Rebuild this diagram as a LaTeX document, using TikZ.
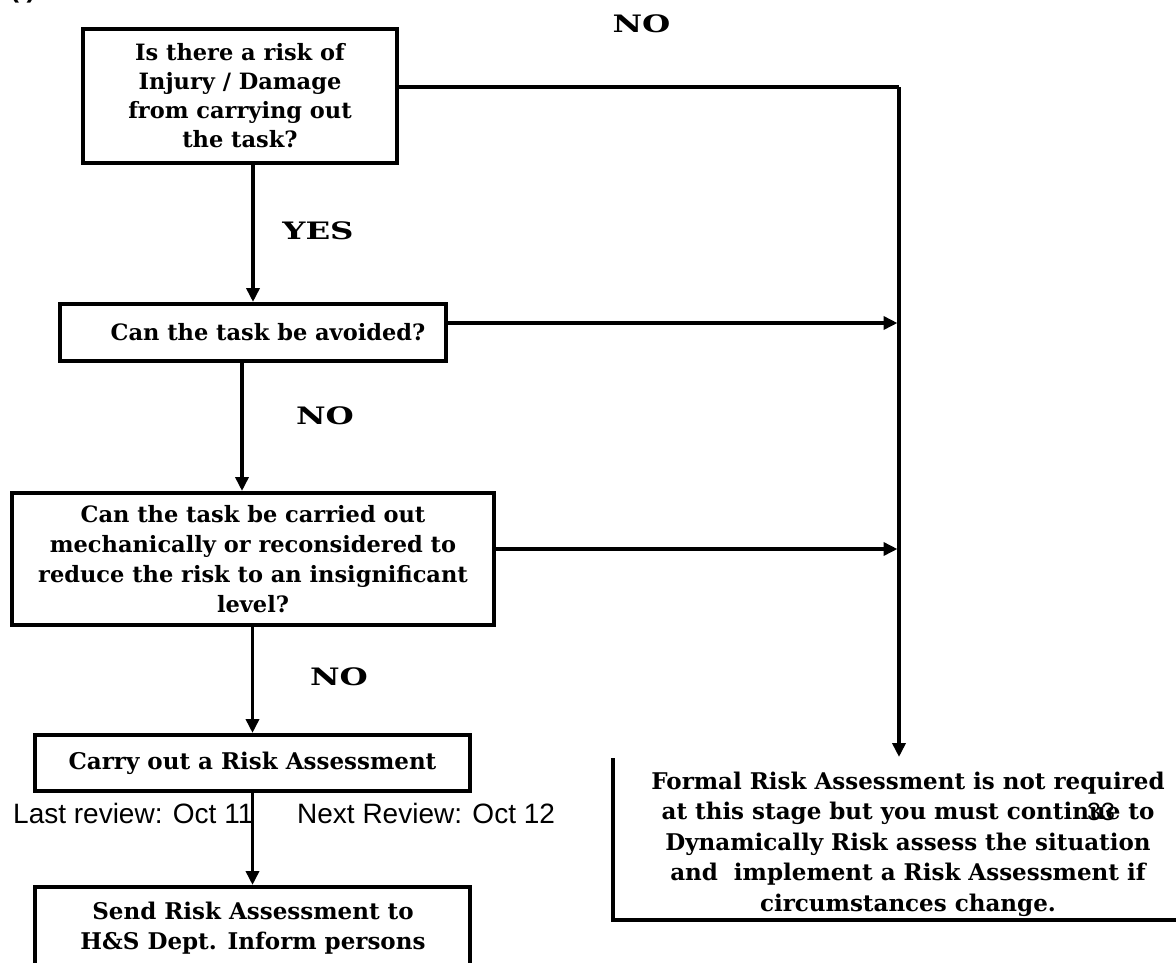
\documentclass[tikz,border=0pt]{standalone}
\usepackage{fontspec}
\setmainfont{DejaVu Serif}
\newfontfamily\arialf{Liberation Sans}
\usepackage{graphicx}
\usetikzlibrary{arrows.meta}
\newcommand\bxfont{\fontsize{22.5}{29}\selectfont\bfseries}
\newcommand\bxbfont{\fontsize{23}{30}\selectfont\bfseries}
\newcommand\lbfont{\fontsize{24}{28}\selectfont\bfseries}
\newcommand\ftfont{\arialf\fontsize{28}{30}\selectfont}
\begin{document}
\begin{tikzpicture}[x=1pt,y=-1pt,
  boxst/.style={draw, line width=4pt, inner sep=0pt, align=center, font=\bxfont},
  txtst/.style={inner sep=0pt, align=center, font=\bxfont},
  lab/.style={inner sep=0pt, font=\lbfont},
  foot/.style={inner sep=0pt, anchor=base west, font=\ftfont},
  conn/.style={line width=3.5pt},
  arr/.style={line width=3.5pt, -{Triangle[length=14pt,width=13pt]}}]
\useasboundingbox (0,0) rectangle (1176,962);
\fill[white] (0,0) rectangle (1176,962);

% clipped mark at the top left
\node[inner sep=0pt, anchor=base west, font=\arialf\bfseries\fontsize{27}{30}\selectfont] (corner) at (10,-3) {( )};

% boxes
\node[boxst, minimum width=314pt, minimum height=134pt] (b1) at (240,96)
  {Is there a risk of\\Injury / Damage\\from carrying out\\the task?};
\node[boxst, minimum width=386pt, minimum height=57pt] (b2) at (253,332.5) {};
\node[txtst] (t2) at (268,332) {Can the task be avoided?};
\node[boxst, font=\fontsize{22.5}{30}\selectfont\bfseries, minimum width=482pt, minimum height=132pt] (b3) at (253,559)
  {Can the task be carried out\\mechanically or reconsidered to\\reduce the risk to an insignificant\\level?};
\node[boxst, font=\bxbfont, minimum width=435pt, minimum height=56pt] (b4) at (252.5,763) {Carry out a Risk Assessment};
\node[boxst, anchor=north, minimum width=435pt, minimum height=160pt] (b5) at (252.5,885) {};
\node[txtst, font=\bxbfont] (t5) at (253,928) {Send Risk Assessment to\\H\&S Dept. Inform persons};

% right-hand box (open at top and right)
\coordinate (fbtl) at (613,758);
\coordinate (fbbl) at (613,920);
\coordinate (fbbr) at (1180,920);
\draw[line width=4pt] (fbtl) -- (fbbl) -- (fbbr);
\node[txtst, font=\fontsize{23}{30.5}\selectfont\bfseries] (fbt) at (908,844)
  {Formal Risk Assessment is not required\\at this stage but you must continue to\\Dynamically Risk assess the situation\\and \ implement a Risk Assessment if\\circumstances change.};
\node[inner sep=0pt, font=\arialf\fontsize{25}{28}\selectfont] (pg) at (1101,812) {33};

% labels
\node[lab] (no0) at (641.5,24) {\scalebox{1.35}[1]{NO}};
\node[lab] (yes1) at (318,231) {\scalebox{1.35}[1]{YES}};
\node[lab] (no2) at (325,416) {\scalebox{1.35}[1]{NO}};
\node[lab] (no3) at (339,677) {\scalebox{1.35}[1]{NO}};

% footer
\node[foot] (lastrev) at (13,823) {Last review: Oct 11};
\node[foot] (nextrev) at (297,823) {Next Review: Oct 12};

% connectors
\coordinate (rc) at (899,87);
\coordinate (fbtop) at (899,757);
\coordinate (j2) at (897.5,323);
\coordinate (j3) at (897.5,549);
\draw[conn] ([yshift=9pt]b1.east) -- (rc);
\draw[arr, line width=4.5pt] (rc) -- (fbtop);
\draw[arr] ([yshift=9.5pt]b2.east) -- (j2);
\draw[arr] ([yshift=10pt]b3.east) -- (j3);
\draw[arr] (b1.south -| b2.north) -- (b2.north);
\draw[arr] ([xshift=-11pt]b2.south) -- ([xshift=-11pt]b3.north);
\draw[arr] (b3.south -| b4.north) -- (b4.north);
\draw[arr] (b4.south) -- (b5.north);
\end{tikzpicture}
\end{document}
